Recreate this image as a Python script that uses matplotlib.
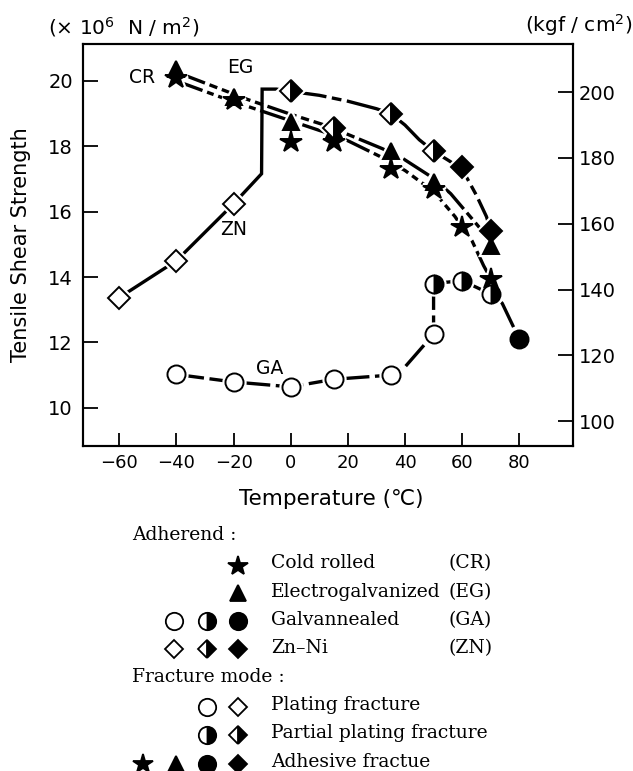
import matplotlib
matplotlib.use("Agg")
import matplotlib.pyplot as plt
import numpy as np

plt.rcParams['font.family'] = ['DejaVu Sans']
plt.rcParams['lines.scale_dashes'] = False

# ---------------- data (temperature in C, strength in 1e6 N/m2) ----------------
cr_t = [-40, -20, 0, 15, 35, 50, 60, 70]
cr_v = [20.10, 19.41, 18.13, 18.13, 17.31, 16.70, 15.52, 13.95]

eg_t = [-40, -20, 0, 15, 35, 50, 70]
eg_v = [20.38, 19.50, 18.74, 18.50, 17.87, 16.90, 14.96]

ga_open_t = [-40, -20, 0, 15, 35, 50]
ga_open_v = [11.02, 10.79, 10.64, 10.87, 11.00, 12.25]
ga_half_t = [50, 60, 70]
ga_half_v = [13.80, 13.89, 13.48]
ga_full_t = [80]
ga_full_v = [12.10]

zn_open_t = [-60, -40, -20]
zn_open_v = [13.37, 14.50, 16.24]
zn_half_t = [0, 15, 35, 50]
zn_half_v = [19.68, 18.55, 19.00, 17.85]
zn_full_t = [60, 70]
zn_full_v = [17.36, 15.42]

# hand-drawn trend curves of the original figure
cr_curve_t = [-40, -20, -15, 0, 14, 20, 31, 40, 50, 57.5, 60, 63.5, 67.5, 70]
cr_curve_v = [20.00, 19.36, 19.22, 18.78, 18.37, 18.17, 17.70, 17.26, 16.62, 15.85, 15.52, 15.10, 14.35, 13.95]
eg_curve_t = [-40, -20, -15, 0, 14, 19, 32, 39, 50, 56, 66, 70]
eg_curve_v = [20.27, 19.60, 19.43, 18.98, 18.59, 18.40, 17.93, 17.64, 17.02, 16.55, 15.52, 14.96]
zn_solid_t = [-60, -40, -20, -10.2, -10.0, -5.0, 0]
zn_solid_v = [13.37, 14.50, 16.24, 17.16, 19.75, 19.75, 19.68]
zn_curve_t = [0, 10, 20, 30, 35, 40, 45, 50, 55, 60, 65, 68.5, 70]
zn_curve_v = [19.68, 19.56, 19.38, 19.15, 19.00, 18.65, 18.20, 17.85, 17.58, 17.30, 16.50, 15.85, 15.42]
ga_curve_t = [-40, -20, 0, 15, 35, 40, 44, 48, 50, 50, 60, 70, 74, 80]
ga_curve_v = [11.02, 10.79, 10.64, 10.87, 11.00, 11.25, 11.65, 12.05, 12.25, 13.80, 13.89, 13.48, 13.20, 12.10]

x_ticks = [-60, -40, -20, 0, 20, 40, 60, 80]
y_ticks = [10, 12, 14, 16, 18, 20]
y2_ticks = [100, 120, 140, 160, 180, 200]

curve_labels = [("CR", -52, 20.12), ("EG", -17.5, 20.42), ("ZN", -20, 15.45), ("GA", -7.5, 11.2)]

legend_rows = [
    ("Cold rolled", "(CR)"),
    ("Electrogalvanized", "(EG)"),
    ("Galvannealed", "(GA)"),
    ("Zn\u2013Ni", "(ZN)"),
]
fracture_rows = ["Plating fracture", "Partial plating fracture", "Adhesive fractue"]

# ---------------- figure ----------------
W, H = 633, 771
fig = plt.figure(figsize=(W / 100, H / 100), dpi=100)
L, R, T, B = 82.7, 573.3, 44, 446
ax = fig.add_axes([L / W, 1 - B / H, (R - L) / W, (B - T) / H])
ax.set_xlim(-72.8, 98.9)
ax.set_ylim(8.83, 21.13)

for s in ax.spines.values():
    s.set_linewidth(1.5)

LW = 2.4
ax.plot(cr_curve_t, cr_curve_v, color='black', lw=LW, dashes=(20, 3.5, 5, 3.5), zorder=2)
ax.plot(eg_curve_t, eg_curve_v, color='black', lw=LW, dashes=(22, 3.5, 6, 3.5), zorder=2)
ax.plot(zn_solid_t, zn_solid_v, color='black', lw=LW, zorder=2, solid_joinstyle='miter')
ax.plot(zn_curve_t, zn_curve_v, color='black', lw=LW, dashes=(26, 4, 7, 4), zorder=2)
ax.plot(ga_curve_t, ga_curve_v, color='black', lw=LW, dashes=(20, 4), zorder=2)

def mk(t, v, marker, ms, fill='full', face='black', z=4):
    # white halo to interrupt the lines around each marker
    ax.plot(t, v, ls='none', marker=marker, ms=ms, mfc='white', mec='white', mew=4.5, zorder=3)
    ax.plot(t, v, ls='none', marker=marker, ms=ms, fillstyle=fill, mfc=face,
            mfcalt='white', mec='black', mew=1.4, zorder=z)

mk(ga_open_t, ga_open_v, 'o', 13, face='white')
mk(ga_half_t, ga_half_v, 'o', 13, fill='right')
mk(ga_full_t, ga_full_v, 'o', 13)
mk(zn_open_t, zn_open_v, 'D', 11, face='white')
mk(cr_t, cr_v, '*', 16)
mk(eg_t, eg_v, '^', 12, z=5)
mk(zn_half_t, zn_half_v, 'D', 11, fill='right', z=6)
mk(zn_full_t, zn_full_v, 'D', 11, z=6)

for txt, tx, ty in curve_labels:
    ax.text(tx, ty, txt, fontsize=13.5, ha='center', va='center', zorder=7)

ax.set_xticks(x_ticks)
ax.set_xticklabels([f"\u2212{abs(v)}" if v < 0 else str(v) for v in x_ticks])
ax.set_yticks(y_ticks)
ax.tick_params(axis='x', direction='in', length=9.5, width=1.3, labelsize=13, pad=6, top=False)
ax.tick_params(axis='y', direction='in', length=11, width=1.3, labelsize=14, pad=7, right=False)

def mpa_to_kgf(m):
    return 100 + (m - 9.59) / 0.1007

ax2 = ax.twinx()
ax2.set_ylim(mpa_to_kgf(8.83), mpa_to_kgf(21.13))
ax2.set_yticks(y2_ticks)
ax2.tick_params(axis='y', direction='in', length=11, width=1.3, labelsize=14, pad=4)
for s in ax2.spines.values():
    s.set_linewidth(1.5)

fig.text(48 / W, 1 - 27 / H, r"($\times$ 10$^{6}$  N / m$^{2}$)", fontsize=14.5, ha='left', va='center')
fig.text(632 / W, 1 - 25 / H, r"(kgf / cm$^{2}$)", fontsize=14.5, ha='right', va='center')
fig.text(21 / W, 1 - 245 / H, "Tensile Shear Strength", fontsize=15, rotation=90, ha='center', va='center')
fig.text(331 / W, 1 - 499 / H, "Temperature (\u2103)", fontsize=15.5, ha='center', va='center')

# ---------------- legend block ----------------
lg = fig.add_axes([0, 0, 1, 1], zorder=-1)
lg.set_xlim(0, W)
lg.set_ylim(H, 0)
lg.axis('off')
serif = dict(family='DejaVu Serif', fontsize=13.5, va='center')

lg.text(132, 535, "Adherend :", ha='left', **serif)
row_y = [563, 592, 620, 648]
for (name, abbr), yy in zip(legend_rows, row_y):
    lg.text(271, yy, name, ha='left', **serif)
    lg.text(448, yy, abbr, ha='left', **serif)
lg.text(132, 677, "Fracture mode :", ha='left', **serif)
frac_y = [705, 733, 762]
for name, yy in zip(fracture_rows, frac_y):
    lg.text(271, yy, name, ha='left', **serif)

def lm(x, y, marker, ms, fill='full', face='black'):
    lg.plot([x], [y], ls='none', marker=marker, ms=ms, fillstyle=fill, mfc=face,
            mfcalt='white', mec='black', mew=1.3)

lm(238, 566, '*', 15)
lm(238, 593, '^', 11.5)
lm(174, 621, 'o', 12.5, face='white'); lm(207, 621, 'o', 12.5, fill='right'); lm(238, 621, 'o', 12.5)
lm(174, 649, 'D', 9, face='white'); lm(207, 649, 'D', 9, fill='right'); lm(238, 649, 'D', 9)
lm(207, 707, 'o', 12.5, face='white'); lm(238, 707, 'D', 9, face='white')
lm(207, 735, 'o', 12.5, fill='right'); lm(238, 735, 'D', 9, fill='right')
lm(143, 764, '*', 15); lm(176, 764, '^', 11.5); lm(207, 764, 'o', 12.5); lm(238, 764, 'D', 9)

fig.savefig("out.png", dpi=100)
